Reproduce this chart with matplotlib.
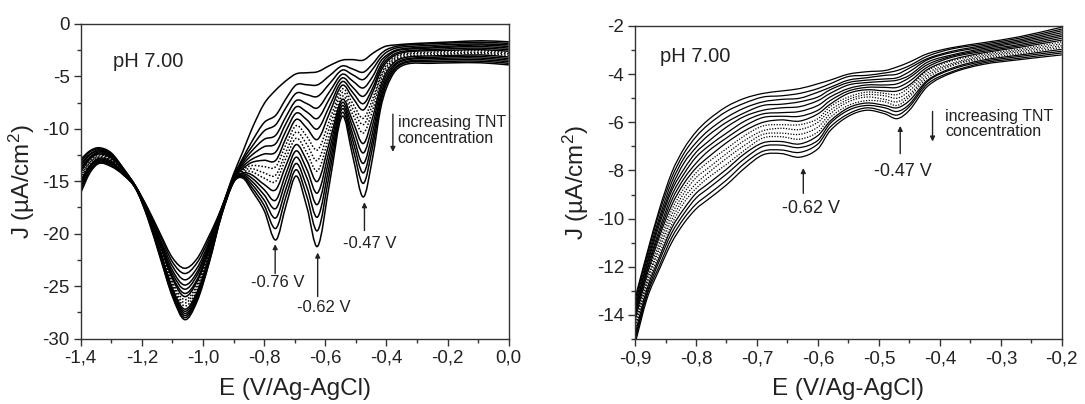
import numpy as np
import matplotlib.pyplot as plt
from matplotlib.path import Path
from matplotlib.patches import PathPatch
from matplotlib.ticker import MultipleLocator, FuncFormatter

plt.rcParams['font.family'] = ['Liberation Sans', 'DejaVu Sans']
plt.rcParams['axes.unicode_minus'] = False
plt.rcParams['mathtext.default'] = 'regular'

# ---- left panel: wide scan, 16 scans (lowest -> highest TNT) read at each potential
e_left = [-1.40, -1.37, -1.34, -1.30, -1.26, -1.22, -1.18, -1.14, -1.10, -1.06,
          -1.02, -0.98, -0.94, -0.90, -0.87, -0.84, -0.80, -0.762, -0.728, -0.695,
          -0.66, -0.625, -0.585, -0.545, -0.51, -0.476, -0.445, -0.42, -0.40,
          -0.37, -0.33, -0.26, -0.18, -0.09, 0.00]
j_left_by_e = [
    [-12.9, -13.1, -13.3, -13.5, -13.7, -13.9, -14.1, -14.3, -14.5, -14.7, -14.9, -15.1, -15.3, -15.5, -15.8, -16.1],
    [-12.1, -12.2, -12.4, -12.5, -12.7, -12.8, -12.9, -13.1, -13.2, -13.3, -13.5, -13.6, -13.7, -13.9, -14.0, -14.2],
    [-11.8, -11.9, -12.0, -12.1, -12.2, -12.3, -12.4, -12.5, -12.6, -12.7, -12.8, -12.9, -13.0, -13.1, -13.2, -13.3],
    [-12.3, -12.4, -12.5, -12.6, -12.6, -12.7, -12.8, -12.9, -12.9, -13.0, -13.1, -13.2, -13.3, -13.4, -13.5, -13.6],
    [-13.8, -13.8, -13.9, -13.9, -14.0, -14.0, -14.0, -14.1, -14.1, -14.1, -14.2, -14.2, -14.3, -14.3, -14.4, -14.4],
    [-15.5, -15.5, -15.5, -15.5, -15.6, -15.6, -15.6, -15.6, -15.6, -15.6, -15.6, -15.6, -15.7, -15.7, -15.7, -15.7],
    [-17.6, -17.7, -17.8, -17.9, -17.9, -18.0, -18.0, -18.1, -18.1, -18.2, -18.2, -18.3, -18.4, -18.4, -18.5, -18.6],
    [-20.0, -20.2, -20.5, -20.7, -20.9, -21.0, -21.2, -21.3, -21.4, -21.6, -21.7, -21.8, -21.9, -22.0, -22.2, -22.3],
    [-22.3, -22.7, -23.1, -23.5, -23.8, -24.1, -24.3, -24.6, -24.8, -25.0, -25.2, -25.4, -25.5, -25.7, -25.9, -26.0],
    [-23.3, -23.8, -24.4, -24.9, -25.3, -25.7, -26.0, -26.3, -26.6, -26.9, -27.2, -27.4, -27.6, -27.8, -28.0, -28.2],
    [-22.4, -22.8, -23.3, -23.7, -24.0, -24.4, -24.6, -24.9, -25.1, -25.4, -25.6, -25.8, -26.0, -26.1, -26.3, -26.5],
    [-20.2, -20.5, -20.8, -21.0, -21.2, -21.4, -21.6, -21.8, -21.9, -22.0, -22.2, -22.3, -22.4, -22.5, -22.7, -22.8],
    [-17.6, -17.6, -17.7, -17.7, -17.8, -17.8, -17.9, -17.9, -18.0, -18.0, -18.1, -18.1, -18.2, -18.2, -18.3, -18.3],
    [-14.3, -14.5, -14.6, -14.6, -14.7, -14.7, -14.8, -14.8, -14.9, -14.9, -14.9, -15.0, -15.0, -15.0, -15.1, -15.1],
    [-12.2, -12.8, -13.0, -13.2, -13.4, -13.6, -13.8, -13.9, -14.0, -14.1, -14.2, -14.3, -14.4, -14.5, -14.6, -14.7],
    [-10.0, -11.2, -11.7, -12.1, -12.5, -12.9, -13.2, -13.5, -13.8, -14.1, -14.4, -14.7, -15.0, -15.3, -15.6, -15.9],
    [-7.6, -9.4, -10.2, -11.0, -11.7, -12.4, -13.0, -13.6, -14.2, -14.7, -15.3, -15.8, -16.3, -16.8, -17.3, -17.8],
    [-6.3, -8.7, -9.6, -10.6, -11.4, -12.2, -13.0, -13.6, -14.4, -15.0, -15.8, -16.8, -17.6, -18.5, -19.5, -20.6],
    [-5.4, -7.1, -7.95, -8.8, -9.45, -10.15, -10.85, -11.45, -12.15, -12.75, -13.45, -14.2, -14.9, -15.65, -16.4, -17.25],
    [-4.75, -5.8, -6.6, -7.3, -7.9, -8.5, -9.1, -9.7, -10.3, -10.9, -11.5, -12.1, -12.7, -13.3, -13.9, -14.5],
    [-4.65, -5.8, -6.75, -7.6, -8.4, -9.15, -9.95, -10.75, -11.5, -12.3, -13.05, -13.9, -14.7, -15.6, -16.5, -17.5],
    [-4.55, -5.8, -6.9, -8.0, -9.0, -10.0, -11.0, -12.0, -13.0, -14.0, -15.0, -16.1, -17.2, -18.4, -19.7, -21.2],
    [-3.95, -4.9, -5.65, -6.4, -7.05, -7.75, -8.4, -9.1, -9.75, -10.45, -11.1, -11.8, -12.5, -13.25, -14.05, -15.0],
    [-3.45, -4.0, -4.4, -4.8, -5.15, -5.5, -5.85, -6.2, -6.55, -6.9, -7.2, -7.5, -7.8, -8.1, -8.45, -8.8],
    [-3.4, -4.3, -4.85, -5.45, -6.05, -6.55, -7.05, -7.6, -8.1, -8.65, -9.3, -9.9, -10.55, -11.15, -11.85, -12.65],
    [-3.45, -4.6, -5.3, -6.1, -6.9, -7.6, -8.2, -9.0, -9.6, -10.4, -11.4, -12.3, -13.3, -14.2, -15.2, -16.5],
    [-2.8, -3.8, -4.3, -5.0, -5.6, -6.1, -6.5, -7.1, -7.6, -8.2, -8.9, -9.6, -10.3, -11.0, -11.7, -12.7],
    [-2.35, -2.9, -3.25, -3.6, -4.0, -4.3, -4.6, -5.0, -5.2, -5.6, -6.0, -6.45, -6.9, -7.3, -7.7, -8.2],
    [-2.1, -2.45, -2.7, -3.0, -3.2, -3.45, -3.65, -3.9, -4.1, -4.35, -4.6, -4.9, -5.2, -5.45, -5.75, -6.1],
    [-2.0, -2.15, -2.3, -2.5, -2.6, -2.8, -2.95, -3.1, -3.25, -3.4, -3.55, -3.75, -3.9, -4.1, -4.25, -4.45],
    [-1.9, -2.0, -2.15, -2.3, -2.4, -2.55, -2.65, -2.8, -2.9, -3.05, -3.15, -3.3, -3.4, -3.55, -3.65, -3.8],
    [-1.8, -1.9, -2.05, -2.2, -2.3, -2.45, -2.55, -2.7, -2.8, -2.95, -3.05, -3.2, -3.3, -3.45, -3.6, -3.75],
    [-1.7, -1.8, -1.95, -2.1, -2.2, -2.35, -2.5, -2.6, -2.75, -2.85, -3.0, -3.1, -3.25, -3.4, -3.55, -3.7],
    [-1.6, -1.75, -1.9, -2.0, -2.15, -2.3, -2.45, -2.55, -2.7, -2.8, -2.95, -3.1, -3.25, -3.4, -3.55, -3.7],
    [-1.7, -1.85, -2.0, -2.15, -2.3, -2.45, -2.6, -2.75, -2.85, -3.0, -3.15, -3.3, -3.45, -3.6, -3.75, -3.9],
]
dotted_left = [7, 8, 9]

# ---- right panel: narrow scan, 16 scans read at each potential
e_right = [-0.90, -0.88, -0.86, -0.84, -0.82, -0.80, -0.78, -0.75, -0.72, -0.69,
           -0.66, -0.63, -0.60, -0.58, -0.55, -0.52, -0.49, -0.47, -0.45, -0.42,
           -0.38, -0.33, -0.27, -0.20]
j_right_by_e = [
    [-13.3, -13.4, -13.55, -13.7, -13.8, -13.95, -14.05, -14.2, -14.3, -14.45, -14.55, -14.7, -14.8, -14.95, -15.05, -15.2],
    [-11.4, -11.5, -11.65, -11.8, -11.9, -12.05, -12.15, -12.3, -12.4, -12.55, -12.65, -12.8, -12.9, -13.05, -13.15, -13.3],
    [-9.6, -9.75, -9.95, -10.1, -10.25, -10.45, -10.6, -10.75, -10.95, -11.1, -11.25, -11.45, -11.6, -11.75, -11.95, -12.1],
    [-8.1, -8.3, -8.5, -8.7, -8.85, -9.05, -9.25, -9.45, -9.65, -9.85, -10.05, -10.25, -10.4, -10.6, -10.8, -11.0],
    [-7.1, -7.3, -7.5, -7.7, -7.95, -8.15, -8.35, -8.55, -8.75, -8.95, -9.15, -9.35, -9.6, -9.8, -10.0, -10.2],
    [-6.4, -6.6, -6.85, -7.05, -7.25, -7.45, -7.7, -7.9, -8.1, -8.3, -8.55, -8.75, -8.95, -9.15, -9.4, -9.6],
    [-5.9, -6.1, -6.35, -6.55, -6.8, -7.0, -7.2, -7.45, -7.65, -7.9, -8.1, -8.3, -8.55, -8.75, -9.0, -9.2],
    [-5.35, -5.55, -5.8, -6.0, -6.2, -6.45, -6.65, -6.85, -7.1, -7.3, -7.5, -7.75, -7.95, -8.15, -8.4, -8.6],
    [-5.0, -5.2, -5.4, -5.6, -5.75, -5.95, -6.15, -6.35, -6.55, -6.75, -6.95, -7.15, -7.3, -7.5, -7.7, -7.9],
    [-4.8, -4.95, -5.15, -5.3, -5.5, -5.65, -5.8, -6.0, -6.15, -6.35, -6.5, -6.65, -6.85, -7.0, -7.2, -7.35],
    [-4.7, -4.9, -5.05, -5.25, -5.4, -5.6, -5.75, -5.9, -6.1, -6.25, -6.45, -6.6, -6.8, -6.95, -7.15, -7.3],
    [-4.6, -4.8, -5.0, -5.15, -5.35, -5.55, -5.75, -5.95, -6.1, -6.3, -6.5, -6.7, -6.9, -7.05, -7.25, -7.45],
    [-4.4, -4.6, -4.75, -4.95, -5.1, -5.3, -5.5, -5.65, -5.85, -6.0, -6.2, -6.4, -6.55, -6.75, -6.9, -7.1],
    [-4.25, -4.4, -4.55, -4.65, -4.8, -4.95, -5.1, -5.25, -5.35, -5.5, -5.65, -5.8, -5.95, -6.05, -6.2, -6.35],
    [-4.0, -4.1, -4.25, -4.35, -4.45, -4.6, -4.7, -4.8, -4.95, -5.05, -5.15, -5.3, -5.4, -5.5, -5.65, -5.75],
    [-3.9, -4.05, -4.15, -4.25, -4.35, -4.45, -4.55, -4.65, -4.75, -4.85, -4.95, -5.1, -5.2, -5.3, -5.4, -5.5],
    [-3.85, -3.95, -4.05, -4.2, -4.3, -4.45, -4.55, -4.7, -4.8, -4.9, -5.05, -5.15, -5.3, -5.4, -5.55, -5.65],
    [-3.7, -3.85, -4.0, -4.15, -4.25, -4.4, -4.55, -4.7, -4.85, -5.0, -5.15, -5.3, -5.4, -5.55, -5.7, -5.85],
    [-3.5, -3.65, -3.75, -3.9, -4.05, -4.15, -4.3, -4.45, -4.55, -4.7, -4.85, -4.95, -5.1, -5.25, -5.35, -5.5],
    [-3.15, -3.25, -3.35, -3.4, -3.5, -3.6, -3.7, -3.8, -3.85, -3.95, -4.05, -4.15, -4.25, -4.3, -4.4, -4.5],
    [-2.9, -2.95, -3.05, -3.1, -3.2, -3.25, -3.3, -3.4, -3.45, -3.55, -3.6, -3.65, -3.75, -3.8, -3.9, -3.95],
    [-2.7, -2.76, -2.82, -2.88, -2.94, -3.0, -3.06, -3.12, -3.18, -3.24, -3.3, -3.36, -3.42, -3.48, -3.54, -3.6],
    [-2.45, -2.51, -2.58, -2.64, -2.7, -2.77, -2.83, -2.89, -2.96, -3.02, -3.08, -3.15, -3.21, -3.27, -3.34, -3.4],
    [-2.05, -2.13, -2.2, -2.28, -2.36, -2.43, -2.51, -2.59, -2.66, -2.74, -2.82, -2.89, -2.97, -3.05, -3.12, -3.2],
]
dotted_right = [8, 9, 10, 11]

# peak markers: (label, arrow x, arrow head y, arrow tail y, label x, label y)
peaks_left = [('-0.76 V', -0.764, -21.0, -23.8, -0.754, -24.7),
              ('-0.62 V', -0.625, -21.8, -26.0, -0.606, -27.0),
              ('-0.47 V', -0.472, -17.0, -19.7, -0.454, -20.9)]
peaks_right = [('-0.62 V', -0.624, -7.9, -8.95, -0.612, -9.6),
               ('-0.47 V', -0.465, -6.15, -7.3, -0.460, -8.05)]


def smooth_path(x, y):
    # cubic Hermite through the read points, handed to matplotlib as Bezier segments
    x = np.asarray(x, float)
    y = np.asarray(y, float)
    n = len(x)
    m = np.empty(n)
    m[1:-1] = (y[2:] - y[:-2]) / (x[2:] - x[:-2])
    m[0] = (y[1] - y[0]) / (x[1] - x[0])
    m[-1] = (y[-1] - y[-2]) / (x[-1] - x[-2])
    verts = [(x[0], y[0])]
    codes = [Path.MOVETO]
    for i in range(n - 1):
        h = (x[i + 1] - x[i]) / 3
        verts += [(x[i] + h, y[i] + m[i] * h),
                  (x[i + 1] - h, y[i + 1] - m[i + 1] * h),
                  (x[i + 1], y[i + 1])]
        codes += [Path.CURVE4] * 3
    return Path(verts, codes)


def comma(v, pos):
    return f'{round(v, 1) + 0.0:.1f}'.replace('.', ',')


def style_axes(ax):
    for s in ax.spines.values():
        s.set_color('#333333')
        s.set_linewidth(1.0)
    ax.tick_params(which='both', direction='out', top=False, right=False,
                   colors='#333333', labelcolor='#222222', labelsize=13.5, width=1.0)
    ax.tick_params(which='major', length=5, pad=3)
    ax.tick_params(which='minor', length=3)
    ax.xaxis.set_major_formatter(FuncFormatter(comma))
    ax.yaxis.set_major_formatter(FuncFormatter(lambda v, p: f'{int(round(v))}'))
    ax.set_xlabel('E (V/Ag-AgCl)', fontsize=17.5, color='#222222', labelpad=8)
    ax.set_ylabel('J (µA/cm$^2$)', fontsize=17.5, color='#222222', labelpad=4)


def draw_scans(ax, e, j_by_e, dotted, lw):
    scans = np.array(j_by_e).T
    for k, j in enumerate(scans):
        ls = (0, (1, 1.2)) if k in dotted else '-'
        ax.add_patch(PathPatch(smooth_path(e, j), fill=False, edgecolor='black',
                               lw=lw, linestyle=ls, capstyle='butt'))


def arrow(ax, x, y_head, y_tail):
    ax.annotate('', xy=(x, y_head), xytext=(x, y_tail),
                arrowprops=dict(arrowstyle='-|>', color='#222222', lw=1.0,
                                mutation_scale=7, shrinkA=0, shrinkB=0))


fig = plt.figure(figsize=(10.85, 4.04), dpi=100)

ax1 = fig.add_axes([0.0744, 0.1621, 0.3945, 0.7785])
draw_scans(ax1, e_left, j_left_by_e, dotted_left, 1.1)
ax1.set_xlim(-1.4, 0.0)
ax1.set_ylim(-30, 0)
ax1.xaxis.set_major_locator(MultipleLocator(0.2))
ax1.xaxis.set_minor_locator(MultipleLocator(0.1))
ax1.yaxis.set_major_locator(MultipleLocator(5))
ax1.yaxis.set_minor_locator(MultipleLocator(2.5))
style_axes(ax1)
ax1.text(-1.293, -3.6, 'pH 7.00', fontsize=14.5, color='#222222', va='center')
for lab, xa, yh, yt, xl, yl in peaks_left:
    arrow(ax1, xa, yh, yt)
    ax1.text(xl, yl, lab, fontsize=12, ha='center', va='center', color='#222222')
arrow(ax1, -0.379, -12.2, -8.6)
ax1.text(-0.363, -10.15, 'increasing TNT\nconcentration', fontsize=11.5,
         va='center', ha='left', linespacing=1.05, color='#222222')

ax2 = fig.add_axes([0.5853, 0.1609, 0.3933, 0.7748])
draw_scans(ax2, e_right, j_right_by_e, dotted_right, 0.9)
ax2.set_xlim(-0.9, -0.2)
ax2.set_ylim(-15, -2)
ax2.xaxis.set_major_locator(MultipleLocator(0.1))
ax2.xaxis.set_minor_locator(MultipleLocator(0.05))
ax2.yaxis.set_major_locator(MultipleLocator(2))
ax2.yaxis.set_minor_locator(MultipleLocator(1))
style_axes(ax2)
ax2.text(-0.859, -3.27, 'pH 7.00', fontsize=14.5, color='#222222', va='center')
for lab, xa, yh, yt, xl, yl in peaks_right:
    arrow(ax2, xa, yh, yt)
    ax2.text(xl, yl, lab, fontsize=13, ha='center', va='center', color='#222222')
arrow(ax2, -0.412, -6.8, -5.55)
ax2.text(-0.391, -6.07, 'increasing TNT\nconcentration', fontsize=11.5,
         va='center', ha='left', linespacing=1.05, color='#222222')

fig.savefig('out.png', dpi=100)
